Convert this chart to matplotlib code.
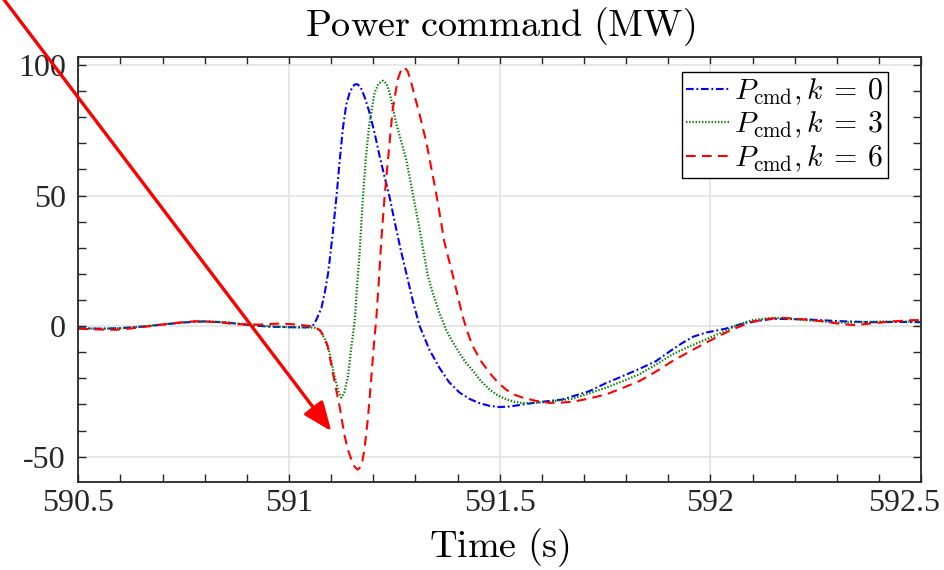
import numpy as np
import matplotlib
matplotlib.use('Agg')
import matplotlib.pyplot as plt
import matplotlib.patheffects as pe
import matplotlib.transforms as mtransforms
from matplotlib.ticker import MultipleLocator

plt.rcParams['mathtext.fontset'] = 'cm'
plt.rcParams['font.family'] = ['Liberation Serif', 'DejaVu Serif']
plt.rcParams['axes.unicode_minus'] = False
plt.rcParams['lines.scale_dashes'] = False

# k = 0 (blue)
t0 = [590.50, 590.55, 590.60, 590.65, 590.70, 590.75, 590.80, 590.85, 590.90, 590.95,
      591.00, 591.04, 591.056, 591.065, 591.077, 591.085, 591.093, 591.104, 591.114, 591.120,
      591.128, 591.136, 591.145, 591.155, 591.162, 591.170, 591.180, 591.191, 591.203, 591.215,
      591.227, 591.239, 591.250, 591.264, 591.278, 591.294, 591.310, 591.333, 591.357, 591.380,
      591.405, 591.430, 591.452, 591.475, 591.499, 591.525, 591.555, 591.594, 591.649, 591.713,
      591.750, 591.791, 591.830, 591.871, 591.905, 591.934, 591.960, 591.989, 592.036, 592.084,
      592.147, 592.226, 592.305, 592.384, 592.45, 592.50]
p0 = [-0.8, -1.0, -0.8, -0.2, 0.6, 1.4, 1.8, 1.4, 0.5, -0.2,
      -0.4, -0.5, 0.0, 2.5, 7.0, 13.0, 20.5, 35.8, 52.0, 63.0,
      76.0, 85.0, 90.0, 92.5, 92.7, 91.5, 87.5, 81.8, 74.0, 65.1,
      57.0, 49.2, 40.5, 30.0, 20.5, 9.5, 0.0, -9.0, -16.0, -21.5,
      -25.5, -28.0, -29.5, -30.5, -31.0, -30.8, -30.0, -29.1, -28.1, -24.9,
      -22.0, -19.2, -16.5, -13.4, -9.5, -6.4, -4.0, -2.5, -1.0, 1.3,
      2.8, 2.6, 1.9, 1.5, 1.6, 1.5]

# k = 3 (green)
t3 = [590.50, 590.55, 590.60, 590.65, 590.70, 590.75, 590.80, 590.85, 590.90, 590.95,
      591.00, 591.04, 591.060, 591.073, 591.085, 591.096, 591.108, 591.117, 591.124, 591.131,
      591.140, 591.148, 591.156, 591.161, 591.168, 591.174, 591.182, 591.190, 591.203, 591.213,
      591.223, 591.231, 591.239, 591.254, 591.278, 591.294, 591.310, 591.329, 591.341, 591.357,
      591.373, 591.390, 591.405, 591.420, 591.436, 591.455, 591.476, 591.495, 591.515, 591.535,
      591.555, 591.580, 591.610, 591.673, 591.712, 591.752, 591.790, 591.831, 591.870, 591.910,
      591.950, 591.989, 592.030, 592.068, 592.100, 592.147, 592.190, 592.226, 592.305, 592.384,
      592.45, 592.50]
p3 = [-0.8, -1.0, -0.8, -0.2, 0.7, 1.5, 1.9, 1.5, 0.6, 0.0,
      -0.4, -0.5, -0.6, -1.5, -5.0, -10.2, -19.2, -25.0, -27.4, -25.5,
      -19.2, -7.7, 2.0, 14.1, 29.4, 46.0, 63.9, 76.6, 89.4, 93.0,
      94.0, 93.0, 89.4, 77.9, 63.9, 50.5, 37.0, 19.5, 12.8, 5.0,
      -1.5, -6.5, -10.5, -14.0, -17.0, -21.0, -24.3, -26.5, -28.0, -29.0,
      -29.5, -29.4, -29.1, -27.8, -25.8, -23.6, -21.2, -18.5, -14.8, -10.8,
      -7.8, -5.1, -2.2, 0.7, 2.3, 3.2, 2.8, 2.3, 1.3, 1.7,
      1.8, 1.8]

# k = 6 (red)
t6 = [590.50, 590.55, 590.59, 590.63, 590.68, 590.73, 590.78, 590.83, 590.88, 590.93,
      590.98, 591.02, 591.05, 591.062, 591.073, 591.083, 591.092, 591.104, 591.112, 591.120,
      591.132, 591.140, 591.148, 591.156, 591.163, 591.172, 591.179, 591.187, 591.195, 591.201,
      591.207, 591.213, 591.219, 591.227, 591.235, 591.246, 591.258, 591.266, 591.274, 591.282,
      591.290, 591.300, 591.310, 591.326, 591.349, 591.369, 591.389, 591.412, 591.424, 591.436,
      591.456, 591.476, 591.495, 591.515, 591.535, 591.555, 591.585, 591.618, 591.645, 591.673,
      591.710, 591.752, 591.790, 591.831, 591.870, 591.910, 591.950, 591.989, 592.020, 592.052,
      592.080, 592.107, 592.140, 592.170, 592.220, 592.265, 592.310, 592.344, 592.380, 592.423,
      592.479, 592.50]
p6 = [-1.0, -1.3, -1.4, -0.8, 0.2, 1.2, 1.9, 1.5, 0.7, 0.6,
      1.0, 0.6, 0.0, -0.5, -1.5, -4.0, -7.7, -17.9, -24.5, -30.7,
      -42.1, -47.5, -51.1, -54.0, -55.0, -53.6, -47.2, -35.7, -20.4, -7.7,
      2.6, 17.0, 33.0, 50.0, 64.0, 83.0, 94.5, 98.0, 99.2, 97.5,
      93.3, 87.0, 81.0, 70.3, 51.1, 32.0, 19.2, 3.8, -2.5, -7.7,
      -13.5, -17.9, -21.5, -24.3, -26.3, -27.4, -28.6, -29.4, -29.3, -29.0,
      -27.8, -26.2, -23.8, -21.1, -17.5, -13.4, -9.8, -6.4, -3.8, -1.3,
      0.5, 1.9, 2.8, 3.2, 2.6, 1.9, 0.8, 0.4, 1.0, 1.7,
      2.3, 2.3]

labels = [r'$P_{\mathrm{cmd}}, k\:=\:0$', r'$P_{\mathrm{cmd}}, k\:=\:3$',
          r'$P_{\mathrm{cmd}}, k\:=\:6$']
xticks = [590.5, 591, 591.5, 592, 592.5]
xticklabels = ['590.5', '591', '591.5', '592', '592.5']
yticks = [-50, 0, 50, 100]

fig = plt.figure(figsize=(9.45, 5.7), dpi=100)
ax = fig.add_axes([0.0829, 0.1549, 0.8918, 0.7456])

ax.plot(t0, p0, color='#0000ff', lw=1.5, dashes=(5.5, 2, 1.3, 2), label=labels[0])
ax.plot(t3, p3, color='#008000', lw=1.6, dashes=(1.0, 1.3), label=labels[1])
ax.plot(t6, p6, color='#ff0000', lw=1.5, dashes=(7, 4.5), label=labels[2])

ax.set_xlim(590.5, 592.5)
ax.set_ylim(-59.6, 103.2)
ax.set_xticks(xticks)
ax.set_xticklabels(xticklabels)
ax.set_yticks(yticks)
ax.xaxis.set_minor_locator(MultipleLocator(0.1))
ax.yaxis.set_minor_locator(MultipleLocator(10))
ax.tick_params(which='both', direction='in', top=True, right=True, length=5.5,
               width=1.0, color='#262626', labelsize=23, labelcolor='#262626',
               labelfontfamily='Liberation Serif')
ax.tick_params(axis='x', pad=5)
ax.tick_params(axis='y', pad=9)
ax.grid(True, which='major', color='#e3e3e3', lw=1.2)
ax.set_axisbelow(True)
for s in ax.spines.values():
    s.set_linewidth(1.3)
    s.set_color('#262626')

# MATLAB pulls the last x label inside the figure
last = ax.get_xticklabels()[-1]
last.set_transform(last.get_transform() +
                   mtransforms.ScaledTranslation(-0.17, 0, fig.dpi_scale_trans))

ax.set_title(r'$\mathrm{Power\ command\ (MW)}$', fontsize=27.5, pad=15)
ax.set_xlabel(r'$\mathrm{Time\ (s)}$', fontsize=27.5, labelpad=6)

leg = ax.legend(loc='upper right', bbox_to_anchor=(0.961, 0.964), borderaxespad=0,
                fontsize=21.5, fancybox=False, framealpha=1, edgecolor='black',
                handlelength=1.45, handletextpad=0.15, labelspacing=0.1,
                borderpad=0.15)
leg.get_frame().set_linewidth(1.0)

ann = ax.annotate('', xy=(591.10, -40.2), xytext=(590.3145, 127),
                  annotation_clip=False,
                  arrowprops=dict(arrowstyle='-|>,head_length=1.1,head_width=0.45',
                                  mutation_scale=16, color='#ff0000', lw=2.4,
                                  shrinkA=0, shrinkB=0))
ann.arrow_patch.set_path_effects([pe.SimplePatchShadow(offset=(2, -2), alpha=0.25),
                                  pe.Normal()])

plt.savefig('out.png', dpi=100)
